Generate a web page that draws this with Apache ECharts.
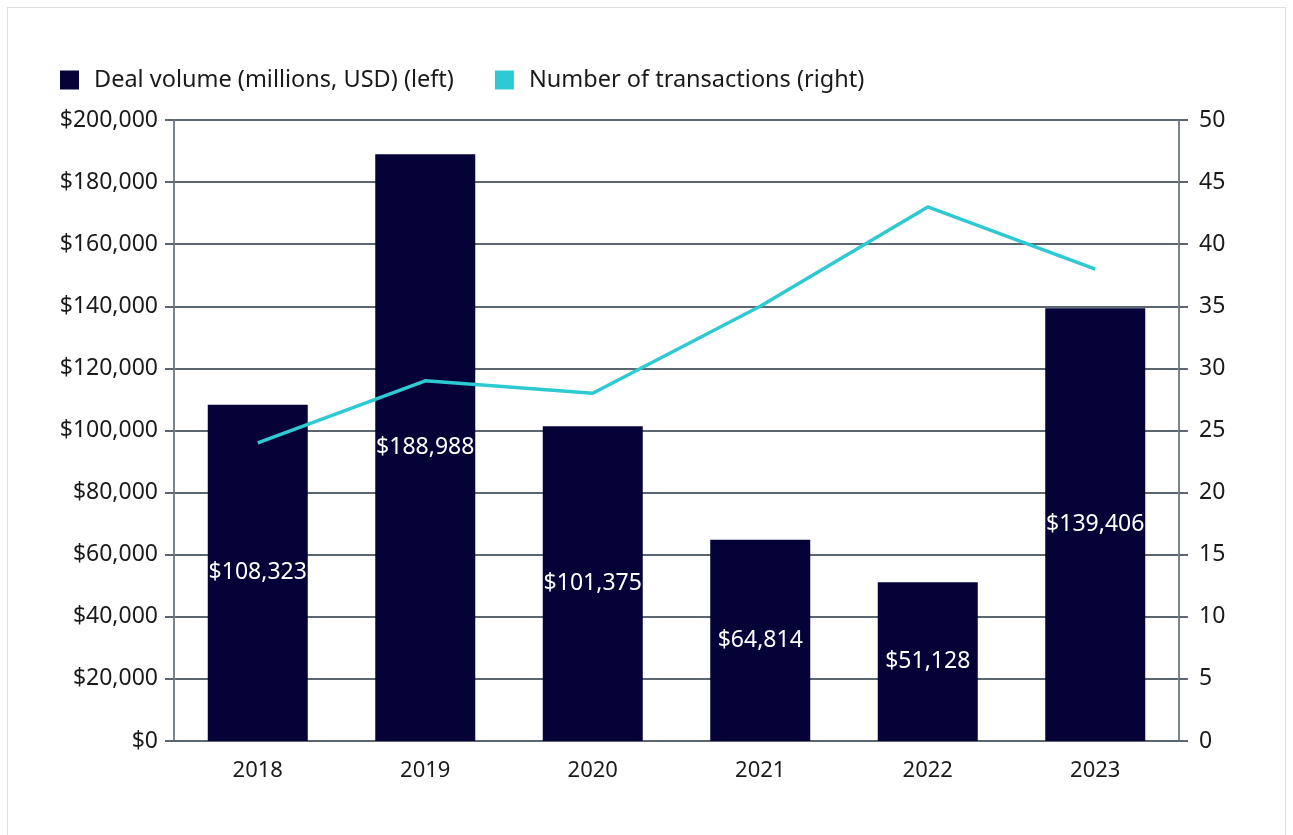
<!DOCTYPE html>
<html>
<head>
<meta charset="utf-8">
<script src="https://cdn.jsdelivr.net/npm/echarts@6/dist/echarts.min.js"></script>
<style>
html, body { margin: 0; padding: 0; background: #fff; }
#frame { position: absolute; left: 7px; top: 7px; width: 1277px; height: 840px; border: 1px solid #dcdfe3; }
#deals { position: absolute; left: 0; top: 0; width: 1293px; height: 835px; }
</style>
</head>
<body>
<div id="frame"></div>
<div id="deals"></div>
<script>
// data
var years = ['2018', '2019', '2020', '2021', '2022', '2023'];
var dealVolume = [108323, 188988, 101375, 64814, 51128, 139406];
var transactions = [24, 29, 28, 35, 43, 38];

var fontName = '"Noto Sans", sans-serif';
var axisGrey = '#5b6670';

var dom = document.getElementById("deals");
var myChart = echarts.init(dom);
var option = {
    textStyle: { fontFamily: fontName },
    animation: false,
    legend: {
        left: 55,
        top: 63,
        itemWidth: 19,
        itemHeight: 19,
        itemGap: 41,
        icon: 'rect',
        textStyle: { fontSize: 23.5, color: '#1a1a1a', fontFamily: fontName, padding: [0, 0, 0, 10] },
        data: ['Deal volume (millions, USD) (left)', 'Number of transactions (right)']
    },
    grid: { left: 174, right: 114, top: 120, bottom: 94 },
    xAxis: {
        type: 'category',
        data: years,
        axisLine: { lineStyle: { color: axisGrey, width: 2 } },
        axisTick: { show: false },
        axisLabel: { fontSize: 22, color: '#1a1a1a', margin: 19, fontFamily: fontName }
    },
    yAxis: [
        {
            type: 'value',
            min: 0,
            max: 200000,
            interval: 20000,
            axisLine: { show: true, lineStyle: { color: '#7a8590', width: 2 } },
            axisTick: { show: true, length: 9, lineStyle: { color: axisGrey, width: 2 } },
            splitLine: { lineStyle: { color: axisGrey, width: 2 } },
            axisLabel: {
                fontSize: 23, color: '#1a1a1a', margin: 16, fontFamily: fontName,
                formatter: function (v) { return '$' + v.toLocaleString('en-US'); }
            }
        },
        {
            type: 'value',
            min: 0,
            max: 50,
            interval: 5,
            axisLine: { show: true, lineStyle: { color: '#7a8590', width: 2 } },
            axisTick: { show: true, length: 9, lineStyle: { color: axisGrey, width: 2 } },
            splitLine: { show: false },
            axisLabel: { fontSize: 23, color: '#1a1a1a', margin: 20, fontFamily: fontName }
        }
    ],
    series: [
        {
            name: 'Deal volume (millions, USD) (left)',
            type: 'bar',
            data: dealVolume,
            barWidth: 100,
            itemStyle: { color: '#050238' },
            label: {
                show: true,
                position: 'inside',
                color: '#ffffff',
                fontSize: 23,
                fontFamily: fontName,
                formatter: function (p) { return '$' + p.value.toLocaleString('en-US'); }
            }
        },
        {
            name: 'Number of transactions (right)',
            type: 'line',
            yAxisIndex: 1,
            data: transactions,
            symbol: 'none',
            lineStyle: { color: '#2ec9d3', width: 3.5 },
            itemStyle: { color: '#2ec9d3' }
        }
    ]
};
myChart.setOption(option, true);
</script>
</body>
</html>
